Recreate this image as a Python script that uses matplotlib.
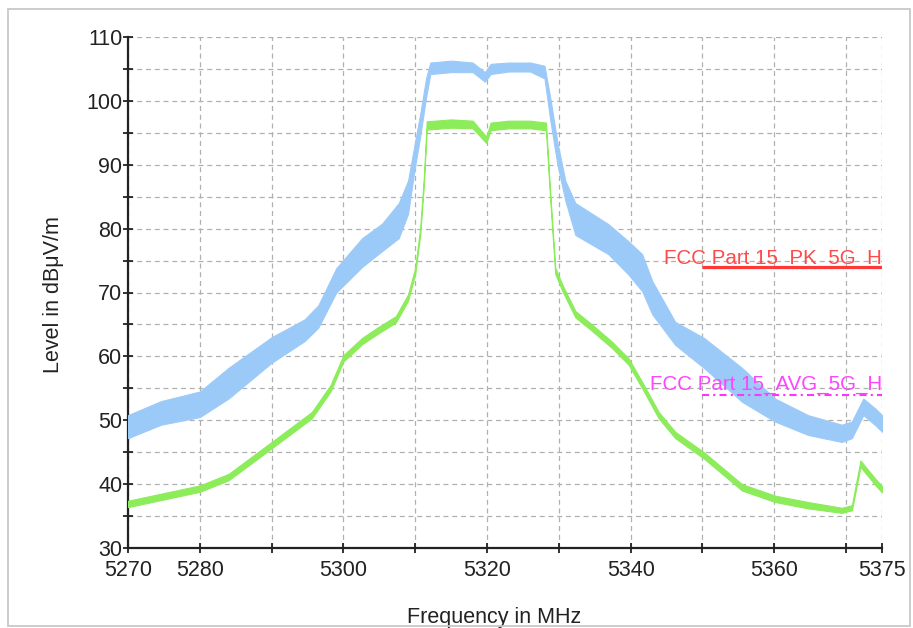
import matplotlib
matplotlib.use("Agg")
import matplotlib.pyplot as plt
from matplotlib.patches import Rectangle

plt.rcParams['font.family'] = ['Liberation Sans', 'DejaVu Sans']

# Peak trace (MHz, dBuV/m band)
pk_freq = [5270, 5274.6, 5280, 5284, 5290, 5294.6, 5296.5, 5299, 5302.6, 5305.4, 5307.7,
           5309, 5309.8, 5310.7, 5311.5, 5312.1, 5315, 5318, 5319.7, 5320.5, 5323, 5326,
           5328, 5328.8, 5329.8, 5330.9, 5332.3, 5336.9, 5339.7, 5341.6, 5343, 5346.2,
           5350.2, 5355.5, 5360.1, 5364.7, 5369.4, 5370.8, 5372.4, 5374.1, 5375]
pk_lo = [47.2, 49.3, 50.5, 53.4, 59.0, 62.4, 64.5, 70.0, 74.0, 76.5, 78.5,
         82.3, 88.5, 94.5, 100.5, 104.2, 104.5, 104.5, 103.0, 104.2, 104.6, 104.6,
         103.5, 97.0, 90.0, 84.4, 79.0, 76.0, 72.8, 70.2, 66.6, 61.8,
         58.2, 52.9, 49.8, 47.7, 46.6, 47.2, 50.8, 49.2, 48.2]
pk_hi = [50.8, 53.0, 54.5, 58.2, 63.0, 65.8, 68.0, 73.8, 78.5, 80.8, 84.0,
         87.5, 92.5, 98.0, 103.5, 106.0, 106.3, 106.0, 104.5, 105.8, 106.0, 106.0,
         105.5, 100.5, 93.5, 87.5, 84.0, 80.7, 78.0, 76.0, 71.8, 65.4,
         62.9, 58.2, 53.4, 50.8, 49.3, 49.8, 53.4, 51.8, 50.8]

# Average trace (MHz, dBuV/m band)
av_freq = [5270, 5280, 5284, 5290, 5295.6, 5298.2, 5300, 5302.6, 5305, 5307.3, 5309,
           5310, 5310.7, 5311.2, 5311.6, 5315, 5318, 5319.9, 5320.5, 5323, 5326, 5328.2,
           5328.8, 5329.5, 5330.5, 5332.3, 5334.6, 5337.4, 5339.7, 5341.6, 5343.9, 5346.2,
           5350.2, 5355.5, 5360.1, 5364.7, 5369.4, 5370.8, 5372.0, 5374.1, 5375]
av_lo = [36.4, 38.8, 40.6, 45.6, 50.3, 54.5, 59.2, 61.9, 63.7, 65.3, 68.7,
         72.9, 79.1, 86.9, 95.5, 95.8, 95.7, 93.4, 95.4, 95.7, 95.7, 95.4,
         84.4, 72.9, 70.2, 66.1, 64.0, 61.3, 58.7, 55.0, 50.3, 47.2,
         44.0, 39.0, 37.2, 36.2, 35.5, 35.9, 42.7, 39.8, 38.7]
av_hi = [37.4, 39.8, 41.6, 46.6, 51.3, 55.5, 60.2, 62.9, 64.7, 66.3, 69.7,
         73.9, 80.3, 88.1, 96.8, 97.1, 96.9, 94.4, 96.6, 96.9, 96.9, 96.6,
         85.6, 73.9, 71.2, 67.1, 65.0, 62.3, 59.7, 56.0, 51.3, 48.2,
         45.0, 40.0, 38.2, 37.2, 36.3, 36.7, 43.7, 40.8, 39.7]

pk_limit_x = [5350, 5375]
pk_limit_y = [74, 74]
av_limit_x = [5350, 5375]
av_limit_y = [54, 54]

xticks = [5270, 5280, 5290, 5300, 5310, 5320, 5330, 5340, 5350, 5360, 5370, 5375]
xticklabels = ['5270', '5280', '', '5300', '', '5320', '', '5340', '', '5360', '', '5375']
yticks = [30, 40, 50, 60, 70, 80, 90, 100, 110]
yminor = [35, 45, 55, 65, 75, 85, 95, 105]

W, H = 913, 628
fig = plt.figure(figsize=(W / 100, H / 100), dpi=100)
fig.patches.append(Rectangle((8 / W, 1 - 626 / H), 902 / W, 617 / H, transform=fig.transFigure,
                             fill=False, edgecolor='#c8c8c8', linewidth=1.3, zorder=10))
ax = fig.add_axes([128 / W, 1 - 548 / H, 754 / W, 511 / H])

blue = '#9ccaf8'
green = '#8cec5a'
ax.fill_between(pk_freq, pk_lo, pk_hi, color=blue, linewidth=0.8, edgecolor=blue, zorder=3)
ax.fill_between(av_freq, av_lo, av_hi, color=green, linewidth=0.8, edgecolor=green, zorder=4)

ax.plot(pk_limit_x, pk_limit_y, color='#ff3838', linewidth=2.3, zorder=5, solid_capstyle='butt')
ax.plot(av_limit_x, av_limit_y, color='#ff33ff', linewidth=1.5,
        linestyle=(0, (3.4, 2, 1, 2)), zorder=5)
ax.text(5375, 74.55, 'FCC Part 15_PK_5G_H', color='#ff4a4a', fontsize=14.8,
        ha='right', va='baseline', zorder=4.5)
ax.text(5375, 54.75, 'FCC Part 15_AVG_5G_H', color='#ff44ff', fontsize=14.8,
        ha='right', va='baseline', zorder=6)

ax.set_xlim(5270, 5375)
ax.set_ylim(30, 110)
ax.set_xticks(xticks)
ax.set_xticklabels(xticklabels)
ax.set_yticks(yticks)
ax.set_yticks(yminor, minor=True)
ax.tick_params(axis='both', which='major', direction='inout', length=7.2, width=1.3,
               labelsize=15.5, color='#222222', labelcolor='#222222')
ax.tick_params(axis='y', which='minor', direction='inout', length=7.2, width=1.3, color='#222222')
ax.tick_params(axis='x', pad=5)
ax.tick_params(axis='y', pad=0.5)

ax.grid(True, which='both', color='#b0b0b0', linestyle=(0, (4, 3)), linewidth=0.9, zorder=0)
ax.set_axisbelow(True)
for s in ['top', 'right']:
    ax.spines[s].set_visible(False)
for s in ['left', 'bottom']:
    ax.spines[s].set_linewidth(1.6)
    ax.spines[s].set_color('#222222')

fig.text(494 / W, 1 - 623 / H, 'Frequency in MHz', fontsize=15.5, ha='center', va='baseline',
         color='#222222')
fig.text(54 / W, 1 - 295 / H, 'Level in dBμV/m', fontsize=15.5, ha='center', va='center',
         rotation=90, color='#222222')

fig.savefig('out.png', dpi=100)
